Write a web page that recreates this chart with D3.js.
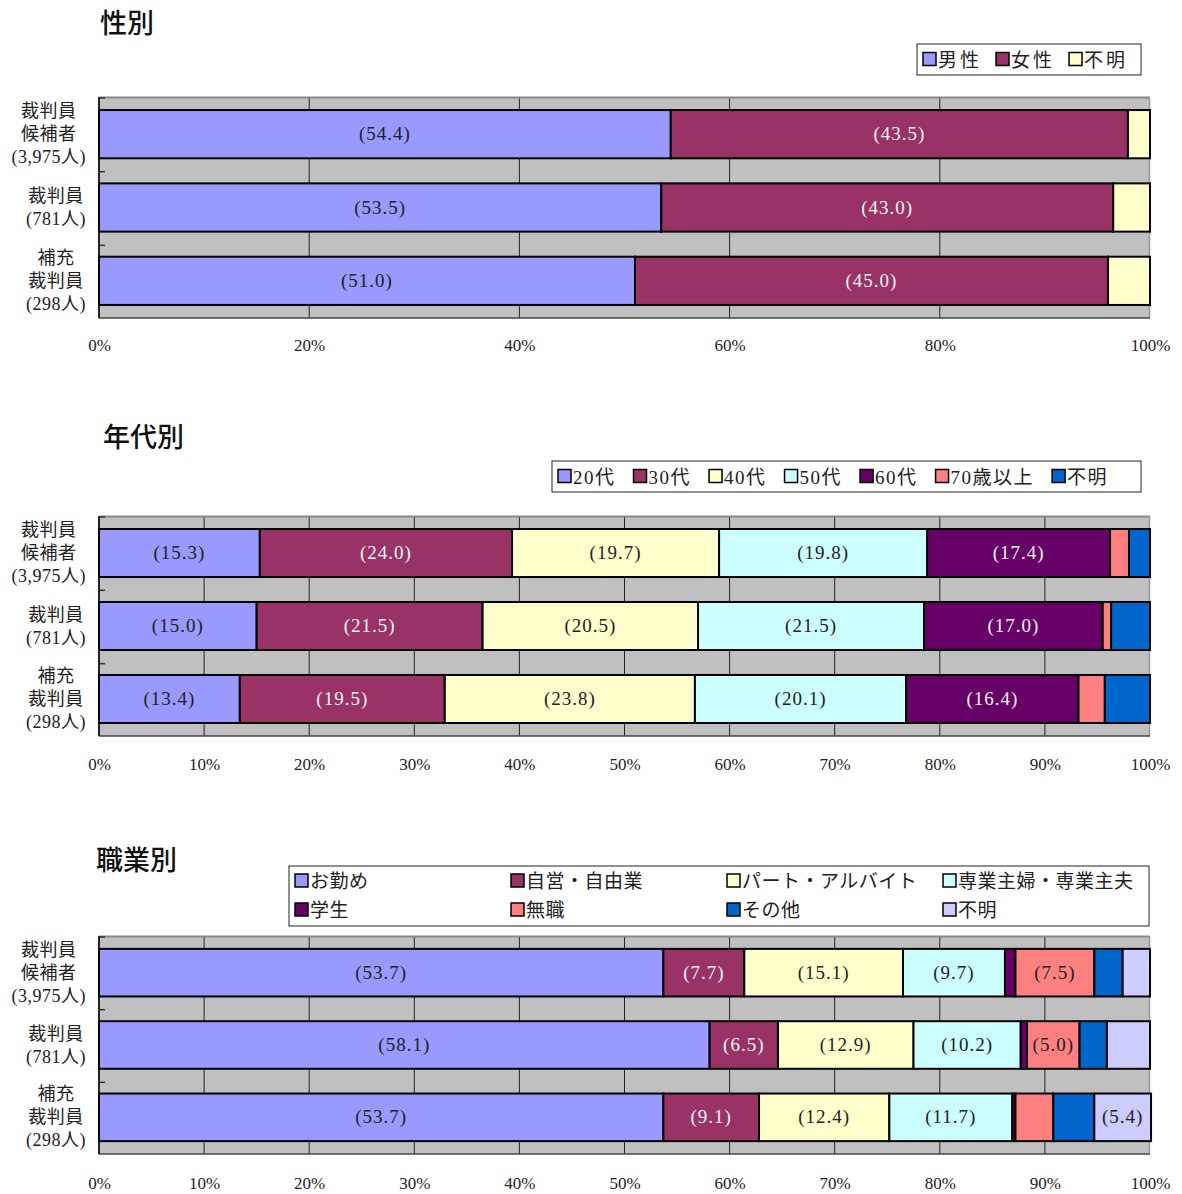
<!DOCTYPE html>
<html>
<head>
<meta charset="utf-8">
<script src="https://cdn.jsdelivr.net/npm/d3@7"></script>
<style>
  body { margin: 0; background: #fff; }
  svg { display: block; }
</style>
</head>
<body>
<svg id="chart"></svg>
<script>
// row labels (shared by all three panels)
var rowLabels = [
  ["裁判員", "候補者", "(3,975人)"],
  ["裁判員", "(781人)"],
  ["補充", "裁判員", "(298人)"]
];
var rowKeys = ["candidates", "judges", "reserve"];

// 性別
var sexCats = ["男性", "女性", "不明"];
var sexValues = [
  [54.4, 43.5, 2.1],
  [53.5, 43.0, 3.5],
  [51.0, 45.0, 4.0]
];

// 年代別
var ageCats = ["20代", "30代", "40代", "50代", "60代", "70歳以上", "不明"];
var ageValues = [
  [15.3, 24.0, 19.7, 19.8, 17.4, 1.8, 2.0],
  [15.0, 21.5, 20.5, 21.5, 17.0, 0.8, 3.7],
  [13.4, 19.5, 23.8, 20.1, 16.4, 2.5, 4.3]
];

// 職業別
var jobCats = ["お勤め", "自営・自由業", "パート・アルバイト", "専業主婦・専業主夫", "学生", "無職", "その他", "不明"];
var jobValues = [
  [53.7, 7.7, 15.1, 9.7, 1.0, 7.5, 2.7, 2.6],
  [58.1, 6.5, 12.9, 10.2, 0.6, 5.0, 2.6, 4.1],
  [53.7, 9.1, 12.4, 11.7, 0.3, 3.6, 3.9, 5.4]
];

var tickPct20 = [0, 20, 40, 60, 80, 100];
var tickPct10 = [0, 10, 20, 30, 40, 50, 60, 70, 80, 90, 100];

var palette = ["#9999ff", "#993366", "#ffffcc", "#ccffff", "#660066", "#ff8080", "#0066cc", "#ccccff"];
var darkFills = ["#993366", "#660066"];

var W = 1182, H = 1194;
var svg = d3.select("#chart").attr("width", W).attr("height", H);

var serif = "'Liberation Serif', 'Noto Sans CJK JP', serif";
var gothic = "'Noto Sans CJK JP', sans-serif";

var x = d3.scaleLinear().domain([0, 100]).range([99, 1150]);

function drawPanel(p) {
  var g = svg.append("g");

  g.append("text")
    .attr("x", p.titleX).attr("y", p.titleY)
    .style("font-family", gothic).style("font-size", "27px").style("font-weight", "500")
    .attr("fill", "#111")
    .text(p.title);

  var y = d3.scaleBand()
    .domain(rowKeys)
    .range([p.top, p.bottom])
    .paddingInner(0.342)
    .paddingOuter(0.178);

  // gray plot area
  g.append("rect")
    .attr("x", x(0)).attr("y", p.top)
    .attr("width", x(100) - x(0)).attr("height", p.bottom - p.top)
    .attr("fill", "#c0c0c0");

  // vertical gridlines
  g.selectAll(".grid")
    .data(p.ticks.slice(1, -1)).enter()
    .append("line")
    .attr("x1", function(d) { return x(d); })
    .attr("x2", function(d) { return x(d); })
    .attr("y1", p.top).attr("y2", p.bottom)
    .attr("stroke", "#222").attr("stroke-width", 1);

  // plot frame
  g.append("line").attr("x1", x(0)).attr("x2", x(100)).attr("y1", p.top + 0.5).attr("y2", p.top + 0.5)
    .attr("stroke", "#888").attr("stroke-width", 2);
  g.append("line").attr("x1", x(100) - 0.5).attr("x2", x(100) - 0.5).attr("y1", p.top).attr("y2", p.bottom)
    .attr("stroke", "#999").attr("stroke-width", 1.5);
  g.append("line").attr("x1", x(0)).attr("x2", x(100)).attr("y1", p.bottom).attr("y2", p.bottom)
    .attr("stroke", "#444").attr("stroke-width", 1.5);
  g.append("line").attr("x1", x(0)).attr("x2", x(0)).attr("y1", p.top).attr("y2", p.bottom)
    .attr("stroke", "#222").attr("stroke-width", 2);

  // category ticks on the left axis
  var step = (p.bottom - p.top) / rowKeys.length;
  g.selectAll(".ctick")
    .data(d3.range(rowKeys.length)).enter()
    .append("line")
    .attr("x1", x(0)).attr("x2", x(0) + 6)
    .attr("y1", function(d) { return p.top + 1 + d * step; })
    .attr("y2", function(d) { return p.top + 1 + d * step; })
    .attr("stroke", "#333").attr("stroke-width", 1.5);

  // stacked segments
  p.values.forEach(function(row, ri) {
    var acc = 0;
    var segs = row.map(function(v, ci) {
      var s = { v: v, x0: acc, x1: acc + v, c: palette[ci] };
      acc += v;
      return s;
    });
    var rg = g.append("g");
    rg.selectAll("rect").data(segs).enter()
      .append("rect")
      .attr("x", function(d) { return x(d.x0); })
      .attr("y", y(rowKeys[ri]))
      .attr("width", function(d) { return Math.max(0, x(d.x1) - x(d.x0)); })
      .attr("height", y.bandwidth())
      .attr("fill", function(d) { return d.c; })
      .attr("stroke", "#000").attr("stroke-width", 2);
    rg.selectAll("text").data(segs.filter(function(d) { return d.v >= 5; })).enter()
      .append("text")
      .attr("x", function(d) { return x((d.x0 + d.x1) / 2); })
      .attr("y", y(rowKeys[ri]) + y.bandwidth() / 2 + 6)
      .attr("text-anchor", "middle")
      .style("font-family", serif).style("font-size", "19px").style("letter-spacing", "1px")
      .attr("fill", function(d) { return darkFills.indexOf(d.c) >= 0 ? "#f4f4f4" : "#222"; })
      .text(function(d) { return "(" + d.v.toFixed(1) + ")"; });
  });

  // row labels
  rowLabels.forEach(function(lines, ri) {
    var cy = y(rowKeys[ri]) + y.bandwidth() / 2;
    var t = g.append("text")
      .style("font-family", serif).style("font-size", "18px").style("letter-spacing", "0.5px")
      .attr("fill", "#222");
    var spans = t.selectAll("tspan").data(lines).enter().append("tspan")
      .text(function(d) { return d; });
    var maxW = 0;
    spans.each(function() { maxW = Math.max(maxW, this.getComputedTextLength()); });
    var cx = 86 - maxW / 2;
    var lh = 23;
    var y0 = cy - (lines.length - 1) * lh / 2 + 6;
    spans.attr("x", cx).attr("text-anchor", "middle")
      .attr("y", function(d, i) { return y0 + i * lh; });
  });

  // x axis labels
  var ax = d3.axisBottom(x).tickValues(p.ticks).tickSize(0)
    .tickFormat(function(d) { return d + "%"; });
  var axg = g.append("g").attr("transform", "translate(0," + p.bottom + ")").call(ax);
  axg.select(".domain").remove();
  axg.selectAll("text")
    .attr("y", p.tickY - p.bottom).attr("dy", 0)
    .style("font-family", serif).style("font-size", "17px").attr("fill", "#222");

  // legend
  var lg = g.append("g");
  lg.append("rect")
    .attr("x", p.legend.x).attr("y", p.legend.y)
    .attr("width", p.legend.w).attr("height", p.legend.h)
    .attr("fill", "#fff").attr("stroke", "#222").attr("stroke-width", 1);
  var cx = p.legend.x + 6;
  p.cats.forEach(function(c, i) {
    var ix, iy;
    if (p.legend.cols) {
      ix = p.legend.x + 6 + (i % p.legend.cols) * p.legend.colW;
      iy = p.legend.y + 15 + Math.floor(i / p.legend.cols) * 29;
    } else {
      ix = cx;
      iy = p.legend.y + p.legend.h / 2;
    }
    lg.append("rect")
      .attr("x", ix).attr("y", iy - 7).attr("width", 13).attr("height", 13)
      .attr("fill", palette[i]).attr("stroke", "#000").attr("stroke-width", 1.5);
    var t = lg.append("text")
      .attr("x", ix + 15).attr("y", iy + 7)
      .style("font-family", serif).style("font-size", "19px")
      .style("letter-spacing", p.legend.ls || "0px")
      .attr("fill", "#222")
      .text(c);
    cx = ix + 15 + t.node().getComputedTextLength() + p.legend.gap;
  });
}

drawPanel({
  title: "性別", titleX: 100, titleY: 33,
  top: 97, bottom: 318, tickY: 351,
  ticks: tickPct20, cats: sexCats, values: sexValues,
  legend: { x: 917, y: 44, w: 224, h: 31, gap: 14, ls: "3px" }
});

drawPanel({
  title: "年代別", titleX: 103, titleY: 447,
  top: 516, bottom: 736, tickY: 770,
  ticks: tickPct10, cats: ageCats, values: ageValues,
  legend: { x: 552, y: 461, w: 589, h: 31, gap: 18, ls: "1.5px" }
});

drawPanel({
  title: "職業別", titleX: 96, titleY: 870,
  top: 936, bottom: 1154, tickY: 1189,
  ticks: tickPct10, cats: jobCats, values: jobValues,
  legend: { x: 289, y: 866, w: 860, h: 60, cols: 4, colW: 216, gap: 0, ls: "0.5px" }
});
</script>
</body>
</html>
